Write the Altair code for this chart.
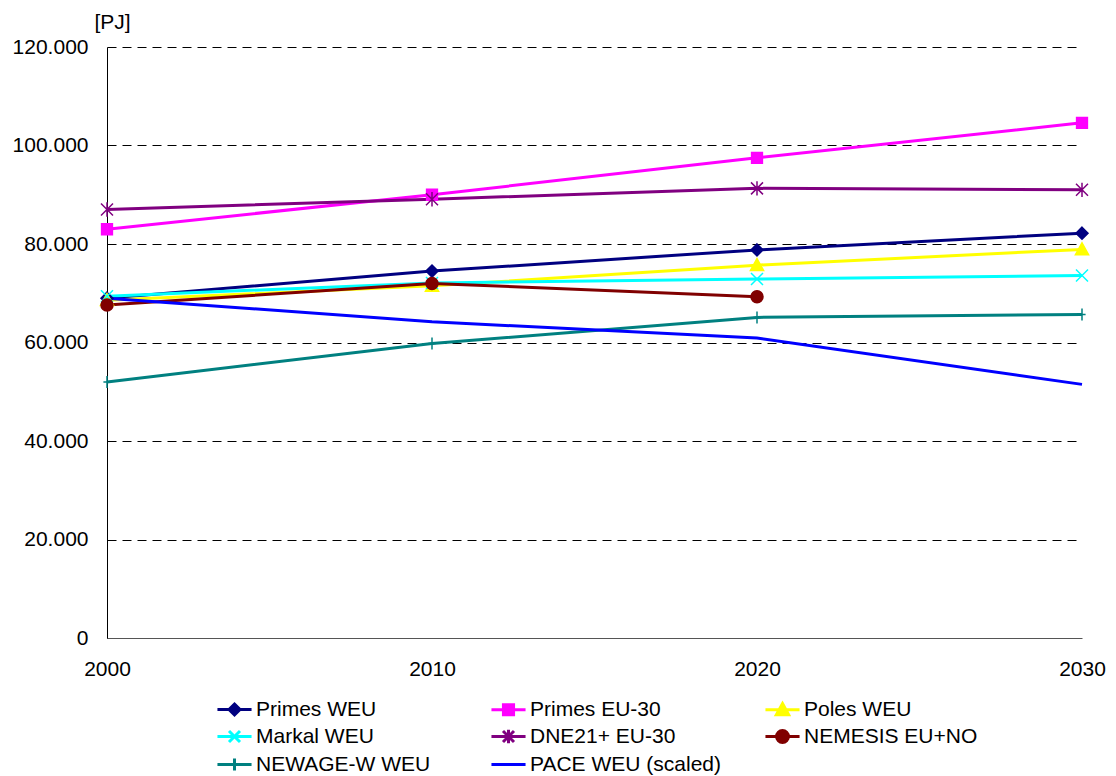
import altair as alt
import pandas as pd

years = [2000, 2010, 2020, 2030]
series = ["Primes WEU", "Primes EU-30", "Poles WEU", "Markal WEU",
          "DNE21+ EU-30", "NEMESIS EU+NO", "NEWAGE-W WEU", "PACE WEU (scaled)"]
primes_weu = [69000, 74500, 78800, 82200]
primes_eu30 = [83000, 90000, 97500, 104600]
poles_weu = [68600, 71500, 75700, 78900]
markal_weu = [69400, 72100, 72900, 73600]
dne21_eu30 = [87000, 89100, 91300, 91000]
nemesis_eu_no = [67600, 72000, 69300, None]
newage_w_weu = [52000, 59800, 65100, 65700]
pace_weu = [69000, 64200, 60900, 51500]
colors = ["#000080", "#FF00FF", "#FFFF00", "#00FFFF",
          "#800080", "#800000", "#008080", "#0000FF"]
y_ticks = [0, 20000, 40000, 60000, 80000, 100000, 120000]

# marker glyphs (unit square paths)
marker_paths = [
    "M0,-1L1,0L0,1L-1,0Z",
    "M-0.9,-0.9H0.9V0.9H-0.9Z",
    "M0,-1.1L1.1,0.9H-1.1Z",
    "M-1,-1L1,1M-1,1L1,-1",
    "M-1,-1L1,1M-1,1L1,-1M0,-1.2V1.2",
    "M-1,0A1,1,0,1,1,1,0A1,1,0,1,1,-1,0Z",
    "M0,-1V1M-0.6,0H0.6",
    "M0,0",
]
# legend glyphs: a line with the marker in the middle (symbol unit = 11 px)
legend_paths = [
    "M-1.55,0H1.55M0,-0.5L0.5,0L0,0.5L-0.5,0Z",
    "M-1.55,0H1.55M-0.46,-0.46H0.46V0.46H-0.46Z",
    "M-1.55,0H1.55M0,-0.56L0.56,0.46H-0.56Z",
    "M-1.55,0H1.55M-0.5,-0.5L0.5,0.5M-0.5,0.5L0.5,-0.5",
    "M-1.55,0H1.55M-0.5,-0.5L0.5,0.5M-0.5,0.5L0.5,-0.5M0,-0.62V0.62",
    "M-1.55,0H1.55M-0.54,0A0.54,0.54,0,1,1,0.54,0A0.54,0.54,0,1,1,-0.54,0Z",
    "M-1.55,0H1.55M0,-0.55V0.55",
    "M-1.55,0H1.55",
]
has_marker = [True, True, True, True, True, True, True, False]

values = [primes_weu, primes_eu30, poles_weu, markal_weu,
          dne21_eu30, nemesis_eu_no, newage_w_weu, pace_weu]
rows = []
for s, vals, m in zip(series, values, has_marker):
    for yr, v in zip(years, vals):
        if v is not None:
            rows.append({"year": yr, "value": v, "series": s, "legend": s, "marker": m})
df = pd.DataFrame(rows)

FONT = "Liberation Sans"

x_enc = alt.X("year:Q", scale=alt.Scale(domain=[2000, 2030], nice=False, zero=False),
              axis=alt.Axis(values=years, format="d", title=None, grid=False, ticks=False,
                            labelFlush=False, labelPadding=20, labelFontSize=21,
                            labelFont=FONT, labelColor="black", domainColor="#555555",
                            domainWidth=1))
y_enc = alt.Y("value:Q", scale=alt.Scale(domain=[0, 120000], nice=False),
              axis=alt.Axis(values=y_ticks, title="[PJ]", titleAngle=0, titleX=5, titleY=-19,
                            titleAlign="center", titleBaseline="alphabetic",
                            titleFontSize=21, titleFontWeight="normal", titleFont=FONT,
                            titleColor="black",
                            labelExpr="datum.value == 0 ? '0' : replace(format(datum.value, ','), ',', '.')",
                            ticks=False, labelPadding=19, labelFontSize=21, labelFont=FONT,
                            labelColor="black", domainColor="black", domainWidth=1,
                            grid=True, gridColor="black", gridDash=[9, 6], gridWidth=1))

legend_layer = alt.Chart(df).mark_point(filled=True, opacity=0, strokeWidth=3).encode(
    x=x_enc, y=y_enc,
    shape=alt.Shape("legend:N", scale=alt.Scale(domain=series, range=legend_paths),
                    legend=alt.Legend(title=None, orient="none", legendX=115, legendY=649,
                                      columns=3, direction="horizontal", gridAlign="all",
                                      columnPadding=38, rowPadding=1, labelFontSize=21,
                                      labelFont=FONT, labelColor="black", labelLimit=400,
                                      labelOffset=9, symbolSize=484, symbolStrokeWidth=3,
                                      symbolOpacity=1)),
    fill=alt.Fill("legend:N", scale=alt.Scale(domain=series, range=colors)),
    stroke=alt.Stroke("legend:N", scale=alt.Scale(domain=series, range=colors)),
)

lines = alt.Chart(df).mark_line(strokeWidth=3).encode(
    x=x_enc, y=y_enc,
    color=alt.Color("series:N", scale=alt.Scale(domain=series, range=colors), legend=None),
    detail="series:N",
)

points = alt.Chart(df).transform_filter("datum.marker").mark_point(
    filled=True, size=144, strokeWidth=1.5, opacity=1).encode(
    x=x_enc, y=y_enc,
    shape=alt.Shape("series:N", scale=alt.Scale(domain=series, range=marker_paths), legend=None),
    fill=alt.Fill("series:N", scale=alt.Scale(domain=series, range=colors), legend=None),
    stroke=alt.Stroke("series:N", scale=alt.Scale(domain=series, range=colors), legend=None),
)

chart = alt.layer(legend_layer, lines, points).resolve_scale(
    shape="independent", fill="independent", stroke="independent"
).properties(
    width=975, height=591,
    autosize=alt.AutoSizeParams(type="none"),
    padding={"left": 99, "top": 39, "right": 26, "bottom": 138},
    background="white",
).configure_view(stroke=None)

chart.save("out.html", embed_options={"renderer": "svg", "actions": False})
